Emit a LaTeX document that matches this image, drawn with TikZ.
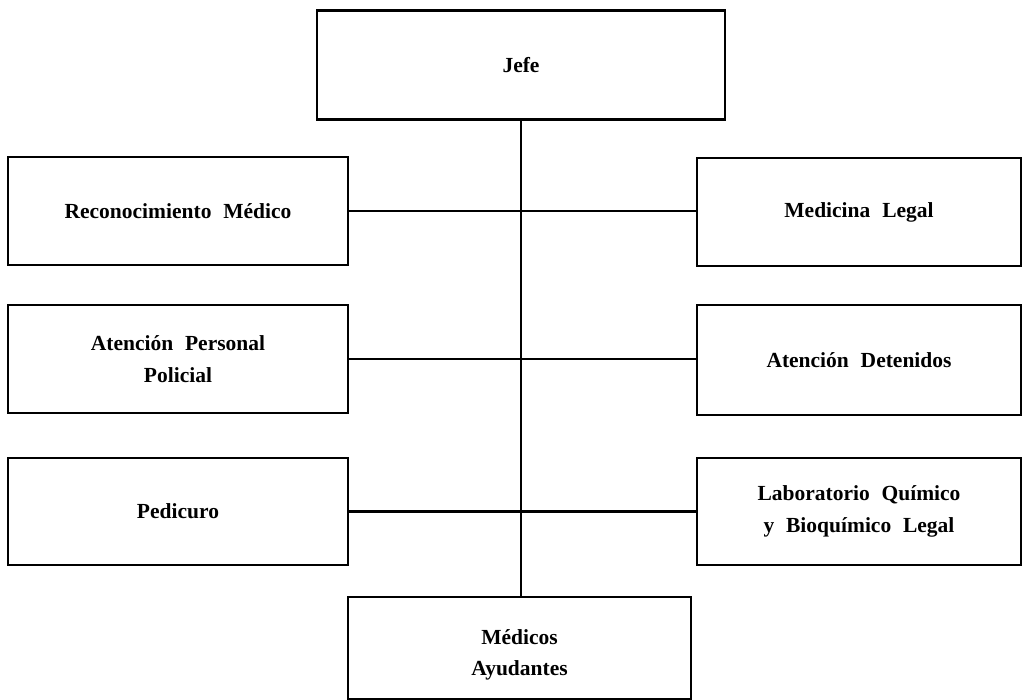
\documentclass[tikz,border=0pt]{standalone}
\usepackage{fontspec}
\setmainfont{Liberation Serif}
\newcommand{\gp}{\hspace{0.55em}}
\begin{document}
\begin{tikzpicture}[x=1pt,y=-1pt,
  box/.style={draw=black,line width=2.8pt,inner sep=0pt,align=center,
    font=\fontsize{21.5}{32}\selectfont\bfseries},
  lbl/.style={inner sep=0pt,align=center,font=\fontsize{21.5}{31}\selectfont\bfseries},
  conn/.style={draw=black,line width=2.4pt}]
\useasboundingbox (0,0) rectangle (1033,700);
\node[box,minimum width=408pt,minimum height=109pt] (jefe) at (521,65) {Jefe};
\node[box,minimum width=340pt,minimum height=108pt] (rm) at (178,211) {Reconocimiento\gp Médico};
\node[box,minimum width=340pt,minimum height=108pt] (ap) at (178,359) {Atención\gp Personal\\Policial};
\node[box,minimum width=340pt,minimum height=107pt] (pe) at (178,511.5) {Pedicuro};
\node[box,minimum width=324pt,minimum height=108pt] (ml) at (859,212) {Medicina\gp Legal};
\node[box,minimum width=324pt,minimum height=110pt] (ad) at (859,360) {Atención\gp Detenidos};
\node[box,minimum width=324pt,minimum height=107pt] (lq) at (859,511.5) {Laboratorio\gp Químico\\y\gp Bioquímico\gp Legal};
\node[box,minimum width=343pt,minimum height=102pt] (ma) at (519.5,648) {};
\node[lbl] (mat) at (519.5,655) {Médicos\\Ayudantes};
\draw[conn] (jefe.south) -- (jefe.south |- ma.north);
\draw[conn] (rm.east) -- (ml.west |- rm.east);
\draw[conn] (ap.east) -- (ad.west |- ap.east);
\draw[conn] (pe.east) -- (lq.west |- pe.east);
\end{tikzpicture}
\end{document}
